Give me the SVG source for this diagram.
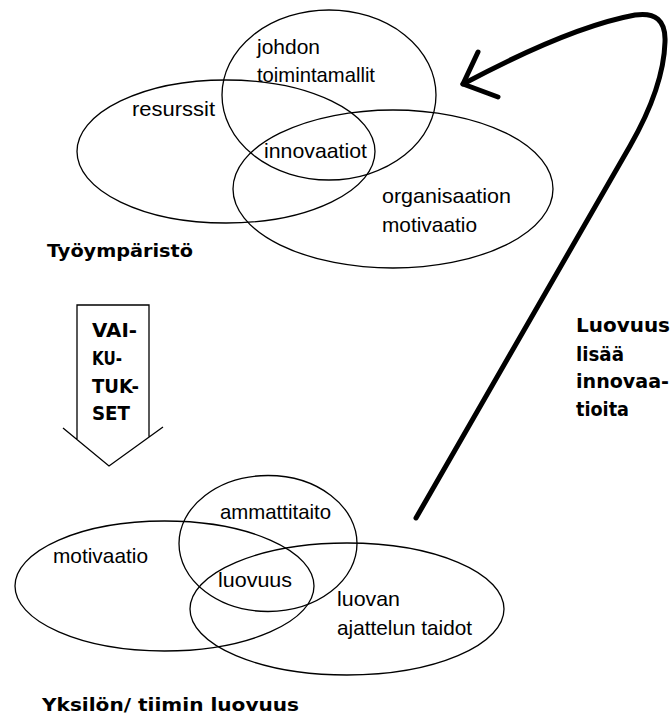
<svg xmlns="http://www.w3.org/2000/svg" width="672" height="718" viewBox="0 0 672 718">
<style>
.e{fill:none;stroke:#000;stroke-width:1.3}
.t{font-family:"Liberation Sans",Arial,sans-serif;font-size:21px;fill:#000}
.b{font-family:"DejaVu Sans","Liberation Sans",Arial,sans-serif;font-weight:bold;font-size:20px;fill:#000}
.s{font-size:17px}
.c{fill:none;stroke:#000;stroke-width:5;stroke-linecap:round;stroke-linejoin:round}
</style>
<rect width="672" height="718" fill="#fff"/>
<g id="resurssit">
<ellipse class="e" cx="226" cy="151.5" rx="149" ry="71.5"/>
<text class="t" x="132" y="116" textLength="83" lengthAdjust="spacingAndGlyphs">resurssit</text>
</g>
<g id="johdon-toimintamallit">
<ellipse class="e" cx="329" cy="95" rx="107" ry="85"/>
<text class="t" x="257" y="54" textLength="63" lengthAdjust="spacingAndGlyphs">johdon</text>
<text class="t" x="257" y="82" textLength="118" lengthAdjust="spacingAndGlyphs">toimintamallit</text>
</g>
<g id="organisaation-motivaatio">
<ellipse class="e" cx="393" cy="189" rx="160" ry="79"/>
<text class="t" x="382" y="203" textLength="129" lengthAdjust="spacingAndGlyphs">organisaation</text>
<text class="t" x="382" y="232" textLength="95" lengthAdjust="spacingAndGlyphs">motivaatio</text>
</g>
<g id="innovaatiot">
<text class="t" x="264" y="158" textLength="103" lengthAdjust="spacingAndGlyphs">innovaatiot</text>
</g>
<g id="tyoymparisto">
<text class="b s" x="47" y="257" textLength="146" lengthAdjust="spacingAndGlyphs">Työympäristö</text>
</g>
<g id="vaikutukset">
<path class="e" d="M77,439 V305 H149 V437 M63,428 L109,466 L163,427"/>
<text class="b" x="92" y="337" textLength="45" lengthAdjust="spacingAndGlyphs">VAI-</text>
<text class="b" x="92" y="365" textLength="30" lengthAdjust="spacingAndGlyphs">KU-</text>
<text class="b" x="92" y="393" textLength="47" lengthAdjust="spacingAndGlyphs">TUK-</text>
<text class="b" x="92" y="420" textLength="38" lengthAdjust="spacingAndGlyphs">SET</text>
</g>
<g id="luovuus-lisaa">
<text class="b" x="576" y="332" textLength="94" lengthAdjust="spacingAndGlyphs">Luovuus</text>
<text class="b" x="576" y="361" textLength="48" lengthAdjust="spacingAndGlyphs">lisää</text>
<text class="b" x="576" y="388" textLength="93" lengthAdjust="spacingAndGlyphs">innovaa-</text>
<text class="b" x="576" y="416" textLength="53" lengthAdjust="spacingAndGlyphs">tioita</text>
</g>
<g id="motivaatio">
<ellipse class="e" cx="164.5" cy="586" rx="149.5" ry="65"/>
<text class="t" x="53" y="563" textLength="95" lengthAdjust="spacingAndGlyphs">motivaatio</text>
</g>
<g id="ammattitaito">
<ellipse class="e" cx="268" cy="543.5" rx="89" ry="68"/>
<text class="t" x="220" y="519" textLength="111" lengthAdjust="spacingAndGlyphs">ammattitaito</text>
</g>
<g id="luovan-ajattelun-taidot">
<ellipse class="e" cx="347" cy="609" rx="157" ry="66"/>
<text class="t" x="337" y="606" textLength="63" lengthAdjust="spacingAndGlyphs">luovan</text>
<text class="t" x="337" y="635" textLength="135" lengthAdjust="spacingAndGlyphs">ajattelun taidot</text>
</g>
<g id="luovuus">
<text class="t" x="218" y="587" textLength="74" lengthAdjust="spacingAndGlyphs">luovuus</text>
</g>
<g id="yksilon">
<text class="b s" x="42" y="711" textLength="257" lengthAdjust="spacingAndGlyphs">Yksilön/ tiimin luovuus</text>
</g>
<g id="connectors">
<path class="c" d="M416,518 L630,146 C650,111 664,75 665,42 C666,20 655,12 635,15 Q570,27 463,84"/>
<path class="c" d="M478,52 L463,84 L498,97"/>
</g>
</svg>
